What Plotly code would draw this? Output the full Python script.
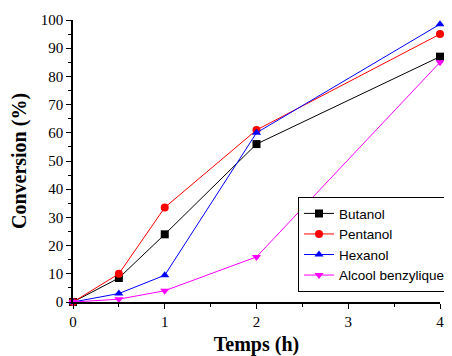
import plotly.graph_objects as go

temps = [0, 0.5, 1, 2, 4]
butanol = [0, 8.5, 24, 56, 87]
pentanol = [0, 10, 33.5, 61, 95]
hexanol = [0, 3, 9.5, 60, 98.5]
benzylique = [0, 1, 4, 16, 85]

series = [
    ("Butanol", butanol, "black", "square"),
    ("Pentanol", pentanol, "red", "circle"),
    ("Hexanol", hexanol, "blue", "triangle-up"),
    ("Alcool benzylique", benzylique, "magenta", "triangle-down"),
]

fig = go.Figure()
for name, ys, col, sym in series:
    fig.add_trace(go.Scatter(
        x=temps, y=ys, name=name, mode="lines+markers",
        line=dict(color=col, width=1),
        marker=dict(color=col, symbol=sym, size=8),
        cliponaxis=False,
    ))

axis_common = dict(
    showline=True, linecolor="black", linewidth=1.5,
    ticks="outside", ticklen=5, tickwidth=1, tickcolor="black",
    showgrid=False, zeroline=False, automargin=False,
    tickfont=dict(family="Liberation Serif", size=15, color="black"),
    mirror=False,
)
title_font = dict(family="Liberation Serif", size=20, color="black")

fig.update_layout(
    width=444, height=348,
    margin=dict(l=65, r=12, t=12, b=54, autoexpand=False),
    plot_bgcolor="white", paper_bgcolor="white",
    xaxis=dict(range=[0, 4], tickvals=[0, 1, 2, 3, 4],
               title=dict(text="<b>Temps (h)</b>", font=title_font, standoff=12),
               minor=dict(ticks="outside", ticklen=3, tickcolor="black", tickwidth=1, dtick=0.5, showgrid=False),
               **axis_common),
    yaxis=dict(range=[0, 100], dtick=10,
               title=dict(text="<b>Conversion (%)</b>", font=title_font, standoff=10),
               minor=dict(ticks="outside", ticklen=3, tickcolor="black", tickwidth=1, dtick=5, showgrid=False),
               **axis_common),
    legend=dict(
        x=1.03, y=0.035, xanchor="right", yanchor="bottom",
        xref="paper", yref="paper",
        bordercolor="black", borderwidth=1, bgcolor="white",
        font=dict(family="Liberation Sans", size=13.5, color="black"),
        tracegroupgap=0, itemwidth=30,
    ),
    showlegend=True,
)

fig.write_html("out.html")
